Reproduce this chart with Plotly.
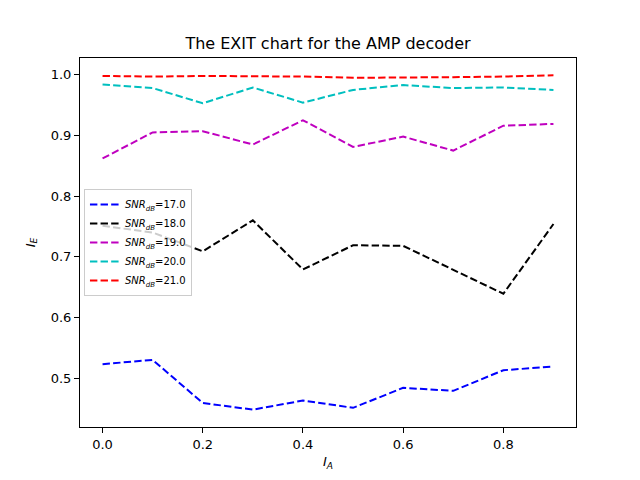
import plotly.graph_objects as go

I_A = [0.0, 0.1, 0.2, 0.3, 0.4, 0.5, 0.6, 0.7, 0.8, 0.9]
snr_labels = ["17.0", "18.0", "19.0", "20.0", "21.0"]
ie_17 = [0.523, 0.530, 0.459, 0.448, 0.463, 0.451, 0.484, 0.479, 0.513, 0.519]
ie_18 = [0.751, 0.740, 0.709, 0.760, 0.679, 0.719, 0.718, 0.678, 0.639, 0.754]
ie_19 = [0.862, 0.905, 0.907, 0.885, 0.925, 0.881, 0.898, 0.875, 0.916, 0.919]
ie_20 = [0.984, 0.978, 0.953, 0.979, 0.954, 0.975, 0.983, 0.978, 0.979, 0.975]
ie_21 = [0.998, 0.997, 0.998, 0.998, 0.997, 0.995, 0.995, 0.996, 0.997, 0.999]
series = [ie_17, ie_18, ie_19, ie_20, ie_21]
colors = ["#0000ff", "#000000", "#bf00bf", "#00bfbf", "#ff0000"]

fig = go.Figure()
for lab, ys, col in zip(snr_labels, series, colors):
    fig.add_trace(go.Scatter(
        x=I_A, y=ys, mode="lines",
        name="<i>SNR</i><sub><i>dB</i></sub>=" + lab,
        line=dict(color=col, width=2, dash="7.4px,3.2px"),
    ))

axis_common = dict(
    showline=True, linecolor="black", linewidth=1, mirror=True,
    ticks="outside", ticklen=5, tickwidth=1, tickcolor="black",
    showgrid=False, zeroline=False, automargin=False,
    tickfont=dict(family="DejaVu Sans", size=13, color="black"),
    tickformat=".1f",
)

W, H = 624, 464
L, R, T, B = 72, 56, 50, 45

fig.update_layout(
    width=W, height=H,
    paper_bgcolor="white", plot_bgcolor="white",
    margin=dict(l=L, r=R, t=T, b=B),
    title=dict(text="The EXIT chart for the AMP decoder",
               font=dict(family="DejaVu Sans", size=16, color="black"),
               x=(L + (W - R)) / 2 / W, xanchor="center", y=1 - 35 / H, yanchor="middle"),
    xaxis=dict(axis_common, range=[-0.045, 0.945], tickvals=[0.0, 0.2, 0.4, 0.6, 0.8],
               title=dict(text="<i>I</i><sub><i>A</i></sub>",
                          font=dict(family="DejaVu Sans", size=13, color="black"), standoff=6)),
    yaxis=dict(axis_common, range=[0.4194, 1.0276], tickvals=[0.5, 0.6, 0.7, 0.8, 0.9, 1.0],
               title=dict(text="<i>I</i><sub><i>E</i></sub>",
                          font=dict(family="DejaVu Sans", size=13, color="black"), standoff=12)),
    legend=dict(x=0.008, y=0.5, xanchor="left", yanchor="middle",
                bgcolor="rgba(255,255,255,0.8)", bordercolor="#cccccc", borderwidth=1,
                font=dict(family="DejaVu Sans", size=10, color="black"),
                tracegroupgap=0, itemwidth=30),
    showlegend=True,
)

fig.write_html("out.html")
